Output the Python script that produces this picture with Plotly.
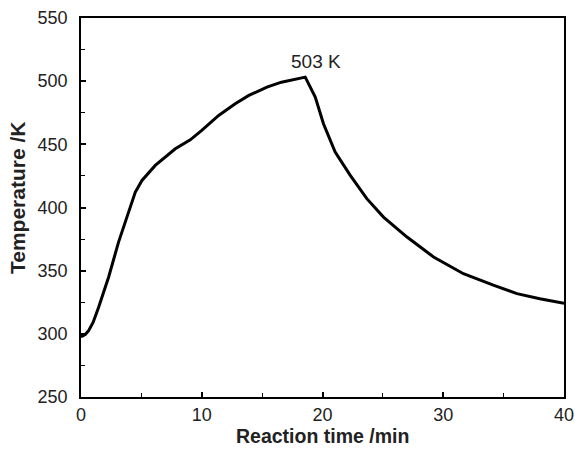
import plotly.graph_objects as go

time_min = [0.0, 0.08, 0.35, 0.63, 1.0, 1.46, 2.29, 3.11, 4.08, 4.5, 5.05, 6.15, 7.81, 9.05, 10.0,
            11.4, 12.77, 13.9, 15.4, 16.6, 18.57, 19.4, 20.08, 21.05, 22.3, 23.67,
            25.05, 27.0, 29.2, 31.67, 34.2, 36.1, 38.0, 40.0]
temperature_K = [298, 298, 299.5, 302.5, 309, 321, 345, 372.6, 400.3, 412.2, 421.4, 433.3, 446.5,
                 453.6, 461, 472.9, 482.1, 488.7, 495.3, 499.2, 503.2, 487.4, 466.3,
                 443.8, 425.4, 407, 392.4, 376.6, 360.8, 347.6, 338.4, 331.8, 327.8, 324.2]
peak_label = "503 K"
x_title = "<b>Reaction time /min</b>"
y_title = "<b>Temperature /K</b>"
x_ticks = [0, 10, 20, 30, 40]
y_ticks = [250, 300, 350, 400, 450, 500, 550]

font_family = "Liberation Sans, Arial, sans-serif"

fig = go.Figure()
fig.add_trace(go.Scatter(x=time_min, y=temperature_K, mode="lines",
                         line=dict(color="black", width=3), showlegend=False,
                         hoverinfo="skip"))

peak_i = temperature_K.index(max(temperature_K))
fig.add_annotation(x=time_min[peak_i], y=temperature_K[peak_i], text=peak_label,
                   showarrow=False, xanchor="center", yanchor="bottom",
                   xshift=11, yshift=3,
                   font=dict(family=font_family, size=19, color="#222"))

# axis titles as annotations for precise placement
fig.add_annotation(xref="paper", yref="paper", x=0.5, y=0, text=x_title,
                   showarrow=False, xanchor="center", yanchor="middle", yshift=-38.5,
                   borderpad=0,
                   font=dict(family=font_family, size=19.5, color="#222"))
fig.add_annotation(xref="paper", yref="paper", x=0, y=0.525, text=y_title,
                   showarrow=False, xanchor="center", yanchor="middle", xshift=-64,
                   textangle=-90,
                   font=dict(family=font_family, size=21, color="#222"))

axis_common = dict(showgrid=False, zeroline=False, showline=True, linecolor="black",
                   linewidth=1.5, mirror=True, ticks="inside", ticklen=5,
                   tickwidth=1.5, tickcolor="black", automargin=False,
                   tickfont=dict(family=font_family, size=18, color="#222"))

fig.update_xaxes(range=[0, 40], tickvals=x_ticks, ticklabelstandoff=1,
                 minor=dict(dtick=5, ticks="inside", ticklen=4, tickwidth=1.2,
                            tickcolor="black"),
                 **axis_common)
fig.update_yaxes(range=[250, 550], tickvals=y_ticks, ticklabelstandoff=8,
                 minor=dict(dtick=25, ticks="inside", ticklen=4, tickwidth=1.2,
                            tickcolor="black"),
                 **axis_common)

fig.update_layout(width=575, height=450, margin=dict(l=81, r=11, t=18, b=53),
                  plot_bgcolor="white", paper_bgcolor="white")

fig.write_html("out.html", config={"displayModeBar": False},
               post_script="document.body.style.margin='0';document.body.style.overflow='hidden';")
